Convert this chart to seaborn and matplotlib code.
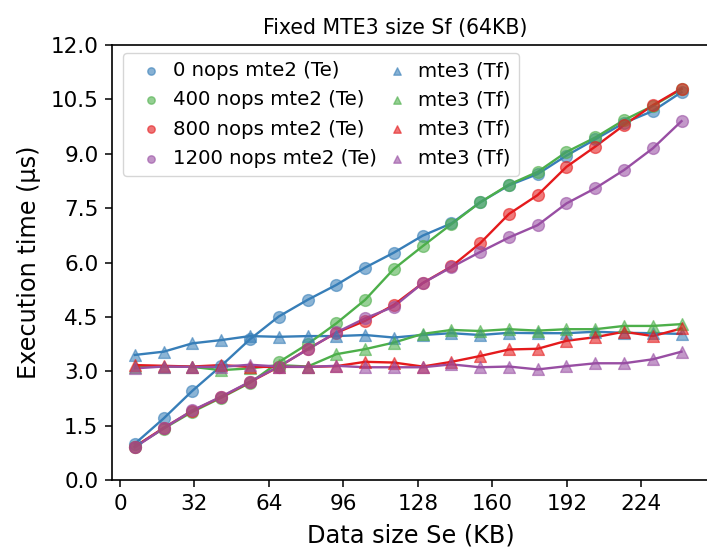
import matplotlib
matplotlib.use("Agg")
import matplotlib.pyplot as plt
import seaborn as sns
import pandas as pd

# Data size Se (KB)
sizes = [6.4, 18.8, 31.1, 43.5, 55.8, 68.2, 80.6, 92.9, 105.3, 117.6,
         130.0, 142.4, 154.7, 167.1, 179.4, 191.8, 204.2, 216.5, 228.9, 241.2]

te_labels = ["0 nops mte2 (Te)", "400 nops mte2 (Te)", "800 nops mte2 (Te)", "1200 nops mte2 (Te)"]
tf_labels = ["mte3 (Tf)", "mte3 (Tf)", "mte3 (Tf)", "mte3 (Tf)"]

te_0 = [1.00, 1.70, 2.46, 3.15, 3.88, 4.51, 4.97, 5.38, 5.86, 6.27,
        6.74, 7.08, 7.66, 8.13, 8.44, 8.95, 9.40, 9.85, 10.18, 10.70]
te_400 = [0.92, 1.42, 1.88, 2.27, 2.68, 3.25, 3.75, 4.32, 4.97, 5.82,
          6.45, 7.06, 7.66, 8.15, 8.50, 9.05, 9.45, 9.93, 10.32, 10.78]
te_800 = [0.92, 1.44, 1.91, 2.29, 2.70, 3.12, 3.61, 4.06, 4.39, 4.83,
          5.43, 5.89, 6.53, 7.34, 7.86, 8.64, 9.20, 9.79, 10.34, 10.80]
te_1200 = [0.90, 1.43, 1.92, 2.30, 2.71, 3.13, 3.60, 4.07, 4.46, 4.78,
           5.43, 5.87, 6.29, 6.69, 7.03, 7.63, 8.05, 8.55, 9.15, 9.90]

tf_0 = [3.45, 3.54, 3.77, 3.86, 3.97, 3.95, 3.97, 3.97, 4.00, 3.93,
        4.00, 4.05, 4.00, 4.06, 4.05, 4.05, 4.09, 4.06, 4.05, 4.03]
tf_400 = [3.13, 3.13, 3.12, 3.03, 3.08, 3.17, 3.13, 3.47, 3.61, 3.79,
          4.03, 4.14, 4.11, 4.16, 4.12, 4.16, 4.16, 4.25, 4.25, 4.30]
tf_800 = [3.17, 3.15, 3.13, 3.17, 3.12, 3.12, 3.12, 3.14, 3.26, 3.24,
          3.13, 3.26, 3.42, 3.60, 3.62, 3.84, 3.94, 4.09, 3.97, 4.18]
tf_1200 = [3.08, 3.13, 3.12, 3.12, 3.18, 3.13, 3.12, 3.15, 3.11, 3.11,
           3.11, 3.19, 3.11, 3.13, 3.05, 3.14, 3.22, 3.22, 3.33, 3.54]

x_ticks = [0, 32, 64, 96, 128, 160, 192, 224]
y_ticks = [0.0, 1.5, 3.0, 4.5, 6.0, 7.5, 9.0, 10.5, 12.0]

colors = sns.color_palette("Set1", 5)
palette = [colors[1], colors[2], colors[0], colors[3]]  # blue, green, red, purple

te_series = [te_0, te_400, te_800, te_1200]
tf_series = [tf_0, tf_400, tf_800, tf_1200]

fig = plt.figure(figsize=(7.07, 5.49), dpi=100)
ax = fig.add_axes([0.1588, 0.1257, 0.844, 0.7923])

for i in range(4):
    df_te = pd.DataFrame({"size": sizes, "time": te_series[i]})
    df_tf = pd.DataFrame({"size": sizes, "time": tf_series[i]})
    c = palette[i]
    sns.lineplot(data=df_te, x="size", y="time", color=c, lw=1.7, ax=ax, legend=False)
    sns.lineplot(data=df_tf, x="size", y="time", color=c, lw=1.7, ax=ax, legend=False)

te_handles, tf_handles = [], []
for i in range(4):
    df_te = pd.DataFrame({"size": sizes, "time": te_series[i]})
    c = palette[i]
    h = ax.scatter([], [], marker="o", s=55, color=c, alpha=0.6, edgecolors=c, linewidths=1.0, label=te_labels[i])
    sns.scatterplot(data=df_te, x="size", y="time", marker="o", s=72, color=c,
                    alpha=0.58, edgecolor=c, linewidth=1.0, ax=ax, legend=False, zorder=3)
    te_handles.append(h)
for i in range(4):
    df_tf = pd.DataFrame({"size": sizes, "time": tf_series[i]})
    c = palette[i]
    h = ax.scatter([], [], marker="^", s=55, color=c, alpha=0.6, edgecolors=c, linewidths=1.0, label=tf_labels[i])
    sns.scatterplot(data=df_tf, x="size", y="time", marker="^", s=72, color=c,
                    alpha=0.58, edgecolor=c, linewidth=1.0, ax=ax, legend=False, zorder=3)
    tf_handles.append(h)

ax.set_xlim(-3.3, 253)
ax.set_ylim(0, 12)
ax.set_xticks(x_ticks)
ax.set_yticks(y_ticks)
ax.set_yticklabels([f"{v:.1f}" for v in y_ticks])
ax.tick_params(labelsize=15.5, length=5, width=1.1, pad=5)
for s in ax.spines.values():
    s.set_linewidth(1.2)

ax.set_xlabel("Data size Se (KB)", fontsize=17.3, labelpad=7)
ax.set_ylabel("Execution time (μs)", fontsize=17.3, labelpad=7)
ax.set_title("Fixed MTE3 size Sf (64KB)", fontsize=14.8, x=0.4746, pad=8)

leg = ax.legend(handles=te_handles + tf_handles, ncol=2, loc="upper left",
                bbox_to_anchor=(0.0184, 0.9823), borderaxespad=0, fontsize=14.2,
                markerscale=0.72, handlelength=2.0, handletextpad=0.1,
                columnspacing=0.0, labelspacing=0.52, borderpad=0.42,
                frameon=True, framealpha=0.8)
leg.get_frame().set_edgecolor("#cccccc")

fig.savefig("out.png", dpi=100)
